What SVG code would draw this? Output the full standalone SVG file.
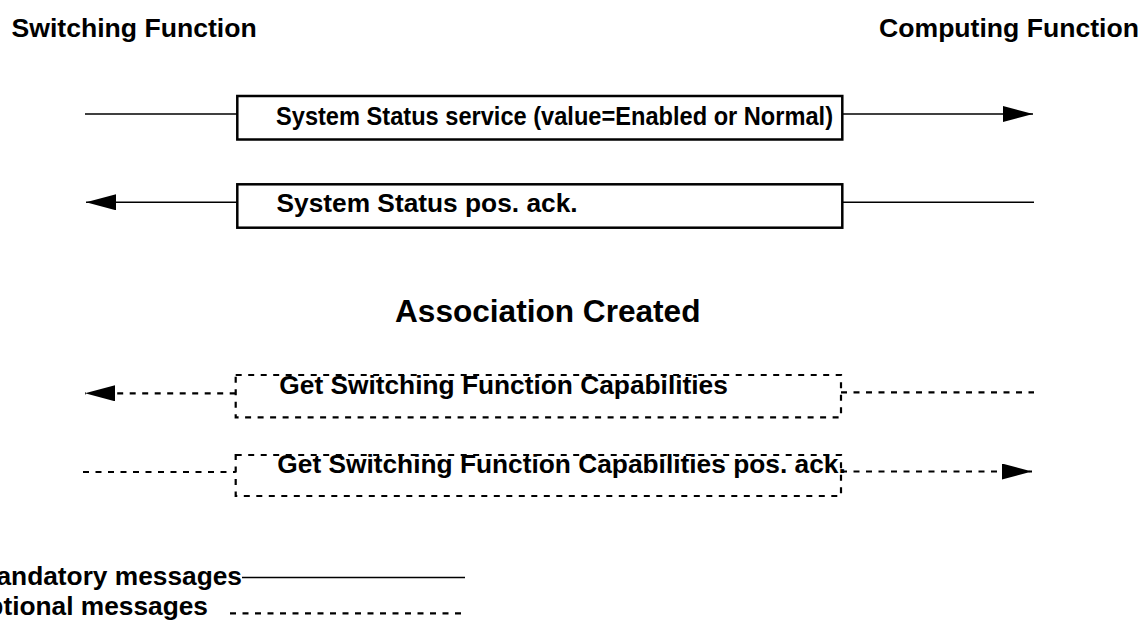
<svg xmlns="http://www.w3.org/2000/svg" width="1142" height="623" viewBox="0 0 1142 623">
<style>
text{font-family:"Liberation Sans",Arial,sans-serif;font-weight:bold;fill:#000}
.t{font-size:26.3px}
.h{font-size:26.6px}
.box{fill:none;stroke:#000;stroke-width:2.5}
.dbox{fill:none;stroke:#000;stroke-width:2.2;stroke-dasharray:6 6.5}
.ln{fill:none;stroke:#000;stroke-width:1.5}
.dln{fill:none;stroke:#000;stroke-width:2.2;stroke-dasharray:6 6.5}
</style>
<defs>
<marker id="ah" markerUnits="userSpaceOnUse" markerWidth="30" markerHeight="16" refX="30" refY="8" orient="auto" viewBox="0 0 30 16">
<path d="M0,0 L30,8 L0,16 z" fill="#000" stroke="none"/>
</marker>
</defs>
<rect width="1142" height="623" fill="#fff"/>
<g id="title-switching"><text class="h" x="11.5" y="37">Switching Function</text></g>
<g id="title-computing"><text class="h" x="1139" y="37" text-anchor="end">Computing Function</text></g>
<g id="msg-system-status">
<rect class="box" x="237.3" y="96" width="605" height="43.5"/>
<text class="t" x="276" y="125" textLength="557" lengthAdjust="spacingAndGlyphs">System Status service (value=Enabled or Normal)</text>
</g>
<g id="msg-system-status-ack">
<rect class="box" x="237.3" y="184.3" width="605" height="43.4"/>
<text class="t" x="276.5" y="211.7">System Status pos. ack.</text>
</g>
<g id="label-association"><text x="395" y="321.7" font-size="31.6">Association Created</text></g>
<g id="msg-get-capabilities">
<rect class="dbox" x="235.7" y="375" width="605.3" height="42.3"/>
<text class="t" x="279.3" y="393.5">Get Switching Function Capabilities</text>
</g>
<g id="msg-get-capabilities-ack">
<rect class="dbox" x="235.7" y="455" width="605.3" height="41"/>
<text class="t" x="277.3" y="473.3">Get Switching Function Capabilities pos. ack.</text>
</g>
<g id="connectors">
<line class="ln" x1="85" y1="114" x2="237.3" y2="114"/>
<line class="ln" x1="842.3" y1="114" x2="1033" y2="114" marker-end="url(#ah)"/>
<line class="ln" x1="237.3" y1="202.3" x2="86" y2="202.3" marker-end="url(#ah)"/>
<line class="ln" x1="842.3" y1="202.3" x2="1034" y2="202.3"/>
<line class="dln" x1="235.7" y1="393.3" x2="85" y2="393.3" marker-end="url(#ah)"/>
<line class="dln" x1="841" y1="392.3" x2="1034" y2="392.3"/>
<line class="dln" x1="83" y1="472" x2="235.7" y2="472"/>
<line class="dln" x1="841" y1="471.5" x2="1032" y2="471.5" marker-end="url(#ah)"/>
</g>
<g id="legend">
<text class="t" x="242" y="585" text-anchor="end">Mandatory messages</text>
<line class="ln" x1="242" y1="577.5" x2="465" y2="577.5" stroke-width="2"/>
<text class="t" x="208" y="615" text-anchor="end">Optional messages</text>
<line class="dln" x1="230" y1="613.3" x2="465" y2="613.3"/>
</g>
</svg>
